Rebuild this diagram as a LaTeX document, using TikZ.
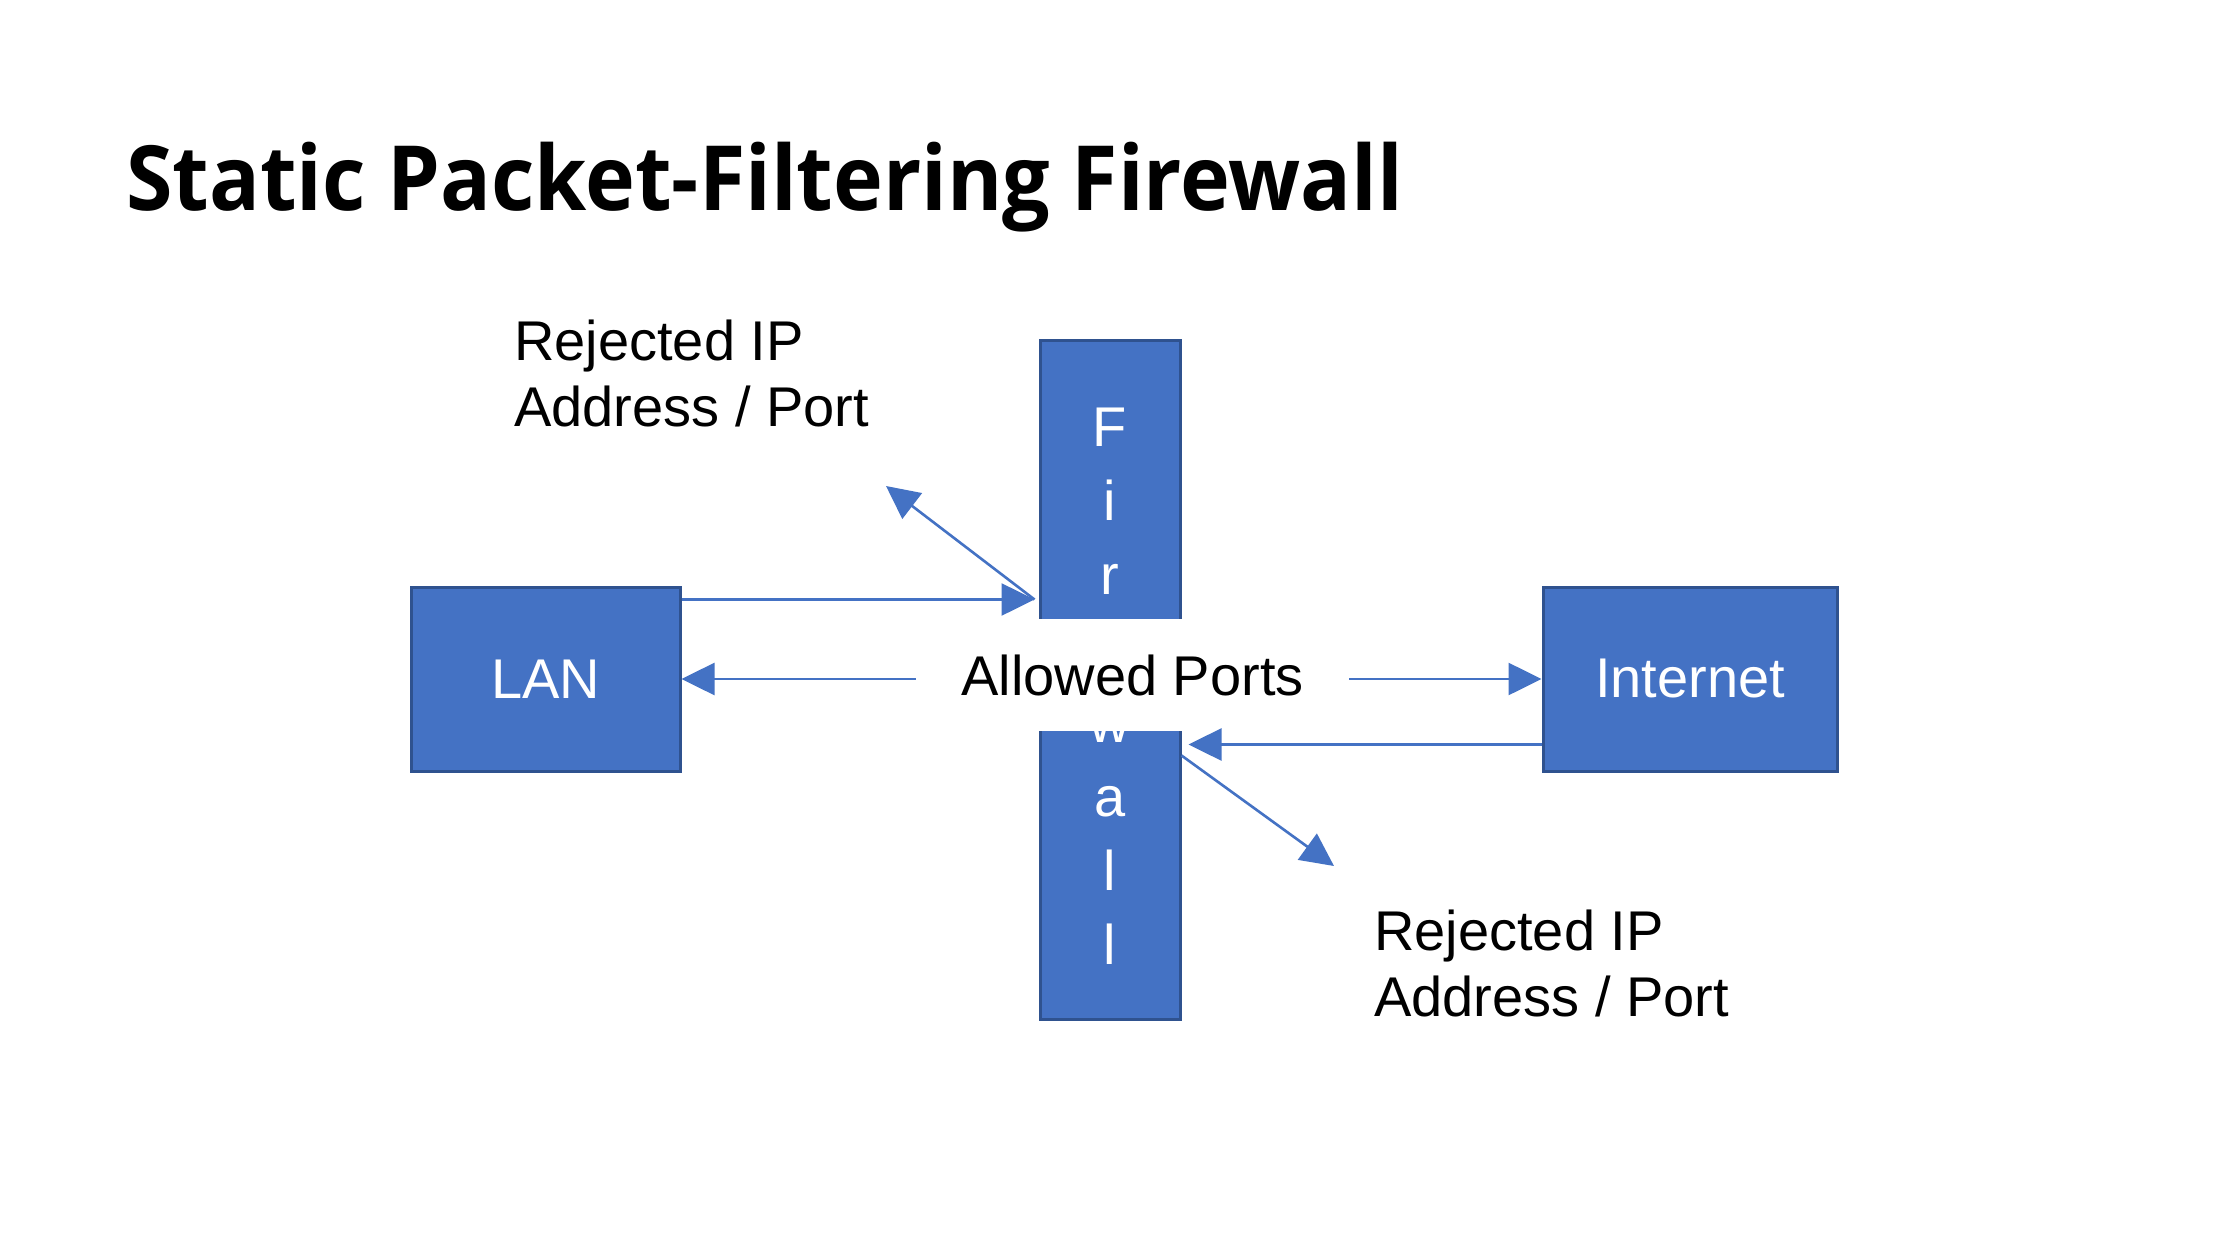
\documentclass[tikz,border=0pt]{standalone}
\usepackage{fontspec}
\setmainfont{Liberation Sans}
\newfontfamily\titlefont{Open Sans}
\usetikzlibrary{arrows.meta}
\definecolor{boxblue}{HTML}{4472C4}
\definecolor{boxedge}{HTML}{2F528F}
\begin{document}
\begin{tikzpicture}[x=1pt,y=-1pt,
  blk/.style={draw=boxedge, line width=3pt, fill=boxblue, text=white, inner sep=0pt, font=\fontsize{56}{74}\selectfont},
  arr/.style={draw=boxblue, line width=2.6pt, -{Triangle[length=33pt,width=32pt]}},
  lbl/.style={font=\fontsize{56}{66}\selectfont, align=left, inner sep=0pt, anchor=north west}]
\useasboundingbox[fill=white] (0,0) rectangle (2240,1260);
\node[anchor=base west, inner sep=0pt, font=\titlefont\bfseries\fontsize{90}{100}\selectfont] (title) at (126,210) {\resizebox{1277pt}{\height}{Static Packet-Filtering Firewall}};
\node[blk, minimum width=140pt, minimum height=679pt, align=center] (fw) at (1110,679.5) {\rule{0pt}{52pt}F\\i\\r\\e\\w\\a\\l\\l};
\node[blk, minimum width=269pt, minimum height=184pt] (lan) at (545.5,679) {LAN};
\node[blk, minimum width=294pt, minimum height=184pt] (inet) at (1690,679) {Internet};
\node[fill=white, minimum width=433pt, minimum height=112pt, inner sep=0pt, font=\fontsize{56}{66}\selectfont] (allow) at (1132.5,675) {Allowed Ports};
\coordinate (a1) at ([yshift=-14pt]lan.north east);
\path (a1 -| fw.west) ++(-4,0) coordinate (t1);
\draw[arr] (a1) -- (t1);
\coordinate (r1) at (886,486);
\draw[arr] (t1) -- (r1);
\draw[arr] (allow.west |- lan.east) -- (lan.east);
\draw[arr] (allow.east |- inet.west) -- (inet.west);
\coordinate (b1) at ([yshift=28pt]inet.south west);
\path (b1 -| fw.east) ++(7,0) coordinate (t2);
\draw[arr] (b1) -- (t2);
\path (b1 -| fw.east) ++(0,11) coordinate (s2);
\coordinate (r2) at (1334,866);
\draw[arr] (s2) -- (r2);
\node[lbl] (rej1) at (514,320) {Rejected IP\\Address / Port};
\node[lbl] (rej2) at (1374,910) {Rejected IP\\Address / Port};
\end{tikzpicture}
\end{document}
